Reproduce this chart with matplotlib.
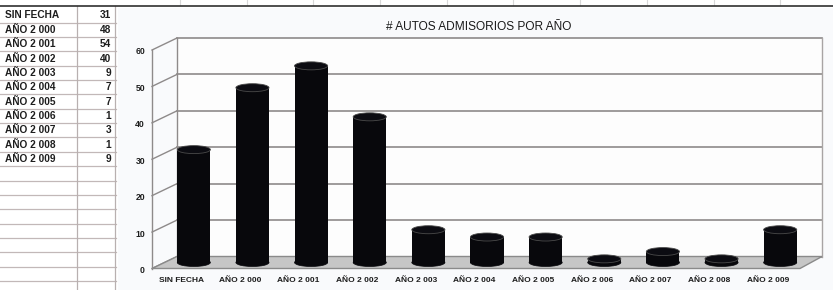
import matplotlib
matplotlib.use('Agg')
import matplotlib.pyplot as plt
from matplotlib.patches import Ellipse, Rectangle, Polygon
from matplotlib.lines import Line2D
from matplotlib.transforms import ScaledTranslation, IdentityTransform
import numpy as np

# ---------------- data ----------------
categories = ['SIN FECHA', 'AÑO 2 000', 'AÑO 2 001', 'AÑO 2 002', 'AÑO 2 003',
              'AÑO 2 004', 'AÑO 2 005', 'AÑO 2 006', 'AÑO 2 007', 'AÑO 2 008',
              'AÑO 2 009']
values = [31, 48, 54, 40, 9, 7, 7, 1, 3, 1, 9]
yticks = [0, 10, 20, 30, 40, 50, 60]
title = '# AUTOS ADMISORIOS POR AÑO'

# ---------------- figure ----------------
W, H, DPI = 833, 290, 100
fig = plt.figure(figsize=(W / DPI, H / DPI), dpi=DPI)
fig.patch.set_facecolor('white')

FONT = ['Liberation Sans', 'DejaVu Sans']


def px_box(x0, y0, x1, y1):
    return [x0 / W, 1 - y1 / H, (x1 - x0) / W, (y1 - y0) / H]


# background axes in pixel coordinates (spreadsheet part)
bg = fig.add_axes([0, 0, 1, 1])
bg.set_xlim(0, W)
bg.set_ylim(H, 0)
bg.axis('off')

# chart area tint
bg.add_patch(Rectangle((118, 8), W - 118, H - 8, facecolor='#f9fafc', edgecolor='none', zorder=0))

# top dark line and faint column marks
bg.plot([0, W], [6, 6], color='#303030', lw=1.2, zorder=5)
for xm in np.arange(180, W, 66.7):
    bg.plot([xm, xm], [0, 5], color='#d8d8d8', lw=0.8, zorder=1)

# table
row_h = 14.35
row_top = 8.3
n_rows = 20
for k in range(n_rows):
    yl = row_top + row_h * (k + 1)
    if yl < H:
        bg.plot([0, 116], [yl, yl], color='#c2b8b8', lw=0.9, zorder=2)
bg.plot([77, 77], [6, H], color='#b8b0b0', lw=0.9, zorder=2)
bg.plot([115, 115], [6, H], color='#b8b0b0', lw=0.9, zorder=2)
for k, (c, v) in enumerate(zip(categories, values)):
    yc = row_top + row_h * (k + 0.5)
    bg.text(5, yc, c, ha='left', va='center', fontsize=7.3, fontweight='bold',
            color='#1e1e1e', family=FONT, zorder=3)
    bg.text(111, yc, str(v), ha='right', va='center', fontsize=7.3, fontweight='bold',
            color='#1e1e1e', family=FONT, zorder=3)

# title
bg.text(479, 26.5, title, ha='center', va='center', fontsize=8.6,
        color='#1a1a1a', family=FONT, zorder=3)

# ---------------- chart (back wall plane) ----------------
ax = fig.add_axes(px_box(177, 38, 822, 256.5))
ax.set_xlim(-0.5, len(categories) - 0.5)
ax.set_ylim(yticks[0], yticks[-1])
ax.patch.set_facecolor('#fdfdfd')
for s in ax.spines.values():
    s.set_visible(False)
ax.set_xticks([])
ax.set_yticks([])

GRID = '#8e8a8a'
# back wall gridlines
for t in yticks:
    ax.plot([-0.5, len(categories) - 0.5], [t, t], color=GRID, lw=1.2, zorder=1,
            clip_on=False)
ax.plot([len(categories) - 0.5] * 2, [yticks[0], yticks[-1]], color='#a8a4a4', lw=1.0,
        zorder=1, clip_on=False)
ax.plot([-0.5] * 2, [yticks[0], yticks[-1]], color=GRID, lw=1.0, zorder=1, clip_on=False)

DX, DY = 25, 12          # depth offset (pixels) back -> front
DXR = 22                 # right side depth offset


def shift(dx, dy):
    return ScaledTranslation(dx / DPI, dy / DPI, fig.dpi_scale_trans)


mid = ax.transData + shift(-DX / 2, -DY / 2)
front = ax.transData + shift(-DX, -DY)

# left wall: diagonal lines per tick and front edge
ident = IdentityTransform()
for t in yticks:
    bx, by = ax.transData.transform((-0.5, t))
    ax.add_line(Line2D([bx, bx - DX], [by, by - DY], color=GRID, lw=1.0,
                       transform=ident, zorder=2, clip_on=False))
b0 = ax.transData.transform((-0.5, yticks[0]))
b1 = ax.transData.transform((-0.5, yticks[-1]))
ax.add_line(Line2D([b0[0] - DX, b1[0] - DX], [b0[1] - DY, b1[1] - DY], color=GRID,
                   lw=1.0, transform=ident, zorder=2, clip_on=False))

# floor
bl = ax.transData.transform((-0.5, 0))
br = ax.transData.transform((len(categories) - 0.5, 0))
ax.add_patch(Polygon([bl, br, (br[0] - DXR, br[1] - DY), (bl[0] - DX, bl[1] - DY)],
                     closed=True, facecolor='#c6c6c6', edgecolor='#8a8a8a', lw=1.0,
                     transform=ident, zorder=2, clip_on=False))

# cylinders
bw = 0.565
px_per_unit = (ax.transData.transform((0, 1))[1] - ax.transData.transform((0, 0))[1])
eh = 8.0 / px_per_unit
x = np.arange(len(categories))
for xi, v in zip(x, values):
    ax.add_patch(Ellipse((xi, 0), bw, eh, transform=mid, facecolor='#08080c',
                         edgecolor='#08080c', lw=0.5, zorder=4, clip_on=False))
    ax.add_patch(Rectangle((xi - bw / 2, 0), bw, v, transform=mid, facecolor='#08080c',
                           edgecolor='none', zorder=4, clip_on=False))
    ax.add_patch(Ellipse((xi, v), bw, eh, transform=mid, facecolor='#0c0c12',
                         edgecolor='#4a4a4a', lw=0.6, zorder=5, clip_on=False))

# tick labels on the front plane
ylab_tr = front + shift(-7, -2)
for t in yticks:
    ax.text(-0.5, t, str(t), transform=ylab_tr, ha='right', va='center',
            fontsize=6.2, fontweight='bold', color='#1e1e1e', family=FONT, clip_on=False)
xlab_tr = front + shift(0, -8.5)
for xi, c in zip(x, categories):
    ax.text(xi, 0, c, transform=xlab_tr, ha='center', va='top', fontsize=6.0,
            fontweight='bold', color='#1e1e1e', family=FONT, clip_on=False)

fig.savefig('out.png', dpi=DPI, facecolor=fig.get_facecolor())
